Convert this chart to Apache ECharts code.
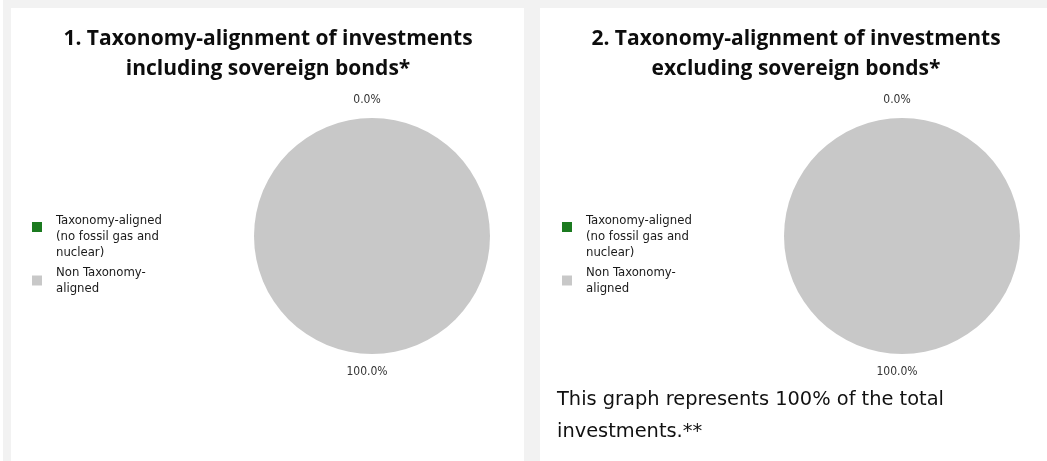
<!DOCTYPE html>
<html>
<head>
<meta charset="utf-8">
<script src="https://cdn.jsdelivr.net/npm/echarts@6/dist/echarts.min.js"></script>
<style>
  html, body { margin: 0; padding: 0; background: #fff; }
  #wrap { position: relative; width: 1047px; height: 461px; overflow: hidden; }
  .bg { position: absolute; left: 3px; top: 0; width: 1044px; height: 461px; background: #f2f2f2; }
  .panel { position: absolute; top: 8px; height: 453px; background: #fff; }
  #main { position: absolute; left: 0; top: 0; width: 1047px; height: 461px; }
</style>
</head>
<body>
<div id="wrap">
  <div class="bg"></div>
  <div class="panel" style="left:11px;width:513px"></div>
  <div class="panel" style="left:540px;width:507px"></div>
  <div id="main"></div>
</div>
<script>
// data
const categories = ['Taxonomy-aligned (no fossil gas and nuclear)', 'Non Taxonomy-aligned'];
const legendLines = [['Taxonomy-aligned', '(no fossil gas and', 'nuclear)'], ['Non Taxonomy-', 'aligned']];
const colors = ['#1b7a1f', '#c8c8c8'];
const inclSovereign = [0.0, 100.0];
const exclSovereign = [0.0, 100.0];
const titles = [
  '1. Taxonomy-alignment of investments\nincluding sovereign bonds*',
  '2. Taxonomy-alignment of investments\nexcluding sovereign bonds*'
];
const note = 'This graph represents 100% of the total\ninvestments.**';

const bodyFont = 'DejaVu Sans Condensed, DejaVu Sans';

function pieData(values) {
  return categories.map((name, i) => ({
    name: name,
    value: values[i],
    itemStyle: i === 0
      ? { color: colors[i], borderColor: '#e2e2e2', borderWidth: 1 }
      : { color: colors[i], borderWidth: 0 }
  }));
}

// one legend per item so each icon sits where it does in the original
// lead = height of an empty first line, pushes the text down against the icon
function legendItem(left, top, idx, lead) {
  return {
    orient: 'vertical',
    left: left,
    top: top,
    itemWidth: 10,
    itemHeight: 10,
    icon: 'rect',
    selectedMode: false,
    itemStyle: { borderWidth: 0 },
    data: [categories[idx]],
    formatter: name => {
      const lines = legendLines[categories.indexOf(name)].map(s => '{t|' + s + '}');
      if (lead) lines.unshift('{s| }');
      return lines.join('\n');
    },
    textStyle: {
      fontFamily: bodyFont,
      fontSize: 13,
      color: '#1a1a1a',
      padding: [0, 0, 0, 9],
      rich: {
        t: { fontFamily: bodyFont, fontSize: 13, lineHeight: 16, color: '#1a1a1a' },
        s: { fontSize: 4, lineHeight: lead || 1 }
      }
    }
  };
}

function pieSeries(center, values) {
  return {
    type: 'pie',
    center: center,
    radius: 118,
    startAngle: 90,
    clockwise: true,
    silent: true,
    data: pieData(values),
    label: {
      show: true,
      position: 'outside',
      formatter: p => p.value.toFixed(1) + '%',
      fontFamily: bodyFont,
      fontSize: 12,
      color: '#333'
    },
    labelLine: { show: false, length: 18, length2: 0 },
    labelLayout: () => ({ align: 'center', verticalAlign: 'middle' })
  };
}

const titleStyle = {
  fontFamily: 'Open Sans',
  fontWeight: 'bold',
  fontSize: 21,
  lineHeight: 30,
  color: '#0d0d0d',
  align: 'center'
};

const myChart = echarts.init(document.getElementById('main'));
myChart.setOption({
  animation: false,
  backgroundColor: 'transparent',
  title: [
    { text: titles[0], left: 263, top: 19, textAlign: 'center', textStyle: titleStyle },
    { text: titles[1], left: 791, top: 19, textAlign: 'center', textStyle: titleStyle },
    {
      text: note, left: 552, top: 379,
      textStyle: {
        fontFamily: 'DejaVu Sans',
        fontWeight: 'normal',
        fontSize: 19.4,
        lineHeight: 32,
        color: '#111'
      }
    }
  ],
  legend: [
    legendItem(27, 196, 0, 20),
    legendItem(27, 261, 1, 0),
    legendItem(557, 196, 0, 20),
    legendItem(557, 261, 1, 0)
  ],
  series: [
    pieSeries([372, 236], inclSovereign),
    pieSeries([902, 236], exclSovereign)
  ]
});
</script>
</body>
</html>
